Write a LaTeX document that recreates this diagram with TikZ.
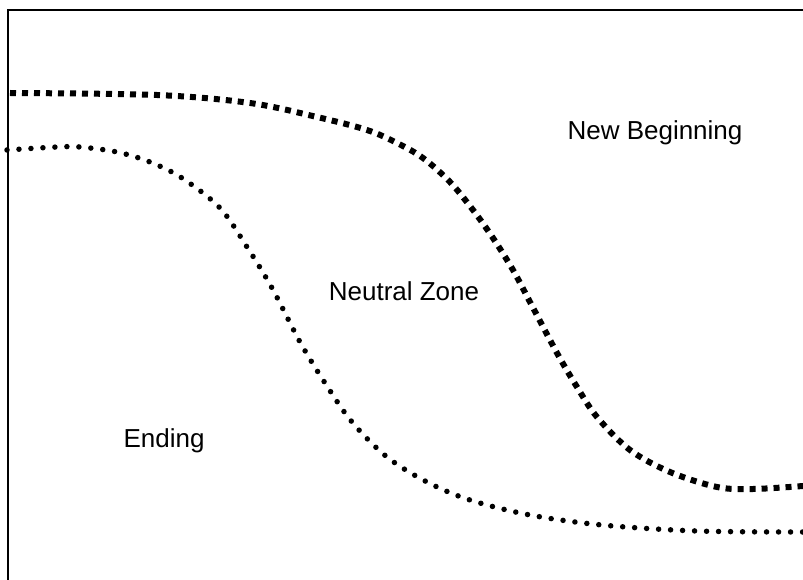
\documentclass[tikz,border=0pt]{standalone}
\usepackage{fontspec}
\setmainfont{Liberation Sans}
\usetikzlibrary{positioning}

\begin{document}
\begin{tikzpicture}[
  x=1pt, y=-1pt,
  frame/.style={draw, line width=2pt},
  squaredots/.style={line width=6pt, dash pattern=on 6pt off 6pt},
  rounddots/.style={line width=5.5pt, line cap=round, dash pattern=on 0pt off 12pt},
  zone/.style={font=\fontsize{26}{30}\selectfont, inner sep=0pt}
]
\useasboundingbox (0,0) rectangle (803,580);
\draw[frame] (803,10) -- (8,10) -- (8,580);

% boundary between neutral zone and new beginning
\draw[squaredots] plot[smooth, tension=0.55] coordinates {
  (10,93) (157,95) (250,103) (317,117) (367,130) (397,143) (423,158)
  (450,182) (473,210) (493,238) (513,270) (530,302) (557,353) (577,387)
  (597,417) (630,450) (670,472) (717,487) (753,489) (803,486)};

% boundary between ending and neutral zone
\draw[rounddots] plot[smooth, tension=0.55] coordinates {
  (7,150) (57,147) (80,147) (117,152) (150,162) (182,178) (220,208)
  (247,247) (272,288) (300,342) (325,383) (352,422) (387,457) (427,482)
  (470,500) (530,515) (602,525) (697,531) (803,532)};

\node[zone] (newbeg) at (655,133) {New Beginning};
\node[zone] (neutral) at (404,291) {Neutral Zone};
\node[zone] (ending) at (164,441) {Ending};
\end{tikzpicture}
\end{document}
